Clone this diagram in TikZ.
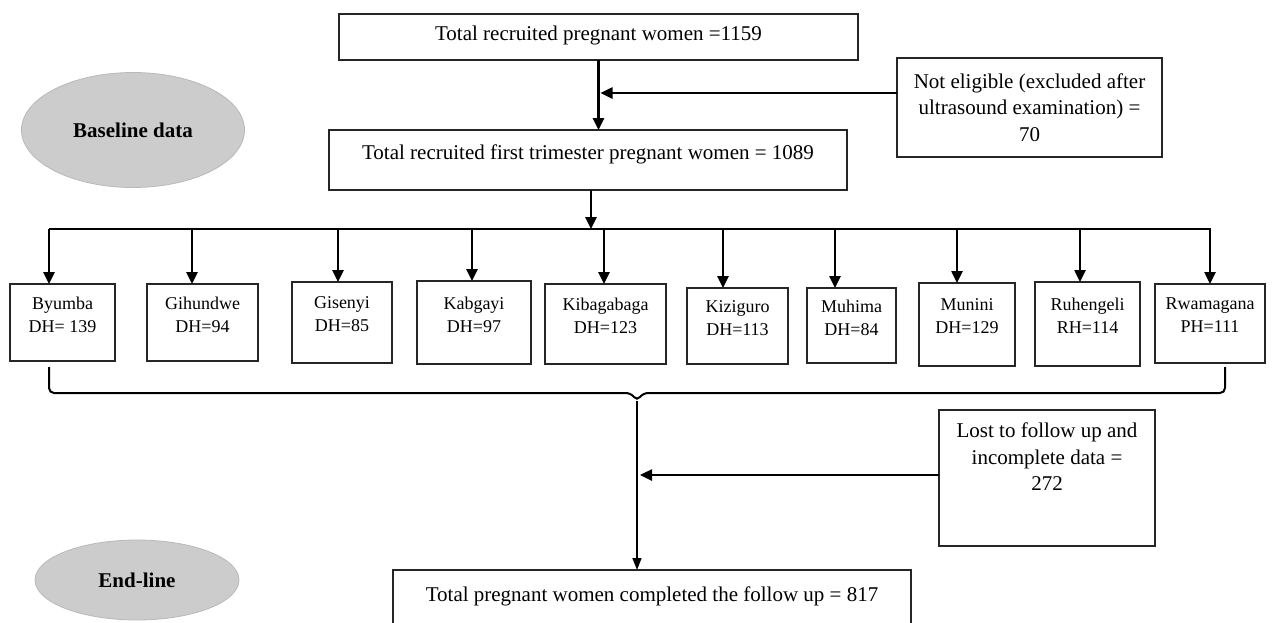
\documentclass[tikz,border=0pt]{standalone}
\usepackage{fontspec}
\setmainfont{Liberation Serif}
\usetikzlibrary{arrows.meta, positioning, shapes.geometric}

\begin{document}
\begin{tikzpicture}[
  x=1pt, y=-1pt,
  every node/.style={font=\fontsize{21}{26.5}\selectfont, inner sep=2pt, outer sep=0pt},
  flowbox/.style={draw=black!85, line width=1.1pt, align=center},
  hospital/.style={flowbox, font=\fontsize{18}{23}\selectfont, text depth=16pt},
  phase/.style={ellipse, draw=gray!55, fill=gray!40, line width=0.8pt, font=\bfseries\fontsize{21}{24}\selectfont},
  flowarrow/.style={line width=2.5pt, -{Triangle[length=12pt, width=11pt]}},
  thinarrow/.style={line width=1.5pt, -{Triangle[length=12pt, width=9pt]}}
]
  \useasboundingbox (0,0) rectangle (1272,622);
  \clip (0,0) rectangle (1272,622);

  % Study phases
  \node[phase, minimum width=223pt, minimum height=115pt] (baseline) at (133,130) {Baseline data};
  \node[phase, minimum width=204pt, minimum height=80pt] (endline) at (137,580) {End-line};

  % Recruitment
  \node[flowbox, minimum width=519pt, minimum height=46pt, text depth=7pt] (total) at (598.5,37) {Total recruited pregnant women =1159};
  \node[flowbox, minimum width=265pt, minimum height=99pt] (noteligible) at (1029.5,107.5) {Not eligible (excluded after\\ultrasound examination) =\\70};
  \node[flowbox, minimum width=518pt, minimum height=60pt, text depth=15pt] (first) at (588,160) {Total recruited first trimester pregnant women = 1089};

  \draw[flowarrow] (total.south) -- (total.south |- first.north);
  \draw[flowarrow, shorten >=2pt] ([yshift=14.5pt]noteligible.west) -- ([yshift=14.5pt]noteligible.west -| total.south);

  % Distribution over hospitals
  \coordinate (busL) at (49,229);
  \coordinate (busR) at (1211,229);
  \coordinate (split) at (591,229);
  \draw[flowarrow] (first.south -| split) -- (split);
  \draw[line width=2.5pt] (busL) -- (busR);

  \foreach \id/\txt/\l/\r/\t/\b/\ax in {
    byumba/{Byumba\\DH= 139}/10/115/284/361/49,
    gihundwe/{Gihundwe\\DH=94}/147/258/284/361/192,
    gisenyi/{Gisenyi\\DH=85}/292/392/282/363/338,
    kabgayi/{Kabgayi\\DH=97}/417/531/281/364/472,
    kibagabaga/{Kibagabaga\\DH=123}/545/666/284/364/604,
    kiziguro/{Kiziguro\\DH=113}/687/788/288/364/723,
    muhima/{Muhima\\DH=84}/807/896/288/363/835,
    munini/{Munini\\DH=129}/919/1015/283/366/957,
    ruhengeli/{Ruhengeli\\RH=114}/1035/1140/282/366/1080,
    rwamagana/{Rwamagana\\PH=111}/1155/1265/284/363/1210} {
    \node[hospital, minimum width={(\r-\l)*1pt}, minimum height={(\b-\t)*1pt}] (\id) at ({(\l+\r)/2},{(\t+\b)/2}) {\txt};
    \coordinate (\id top) at (\ax,229);
    \draw[flowarrow] (\id top) -- (\id top |- \id.north);
  }

  % Brace joining the hospitals
  \coordinate (braceL) at (49,367);
  \coordinate (braceR) at (1225,367);
  \coordinate (merge) at (637,401);
  \draw[line width=2pt, rounded corners=5pt] (braceL) -- (49,393) -- (631,393) -- (merge) -- (643,393) -- (1225,393) -- (braceR);

  % Follow up
  \node[flowbox, minimum width=216pt, minimum height=136pt, text depth=42pt] (lost) at (1047,478) {Lost to follow up and\\incomplete data =\\272};
  \node[flowbox, minimum width=518pt, minimum height=60pt, text depth=12.6pt] (final) at (652,600) {Total pregnant women completed the follow up = 817};

  \draw[thinarrow] (merge) -- (merge |- final.north);
  \draw[flowarrow, shorten >=3pt] ([yshift=3pt]lost.west) -- ([yshift=3pt]lost.west -| merge);
\end{tikzpicture}
\end{document}
